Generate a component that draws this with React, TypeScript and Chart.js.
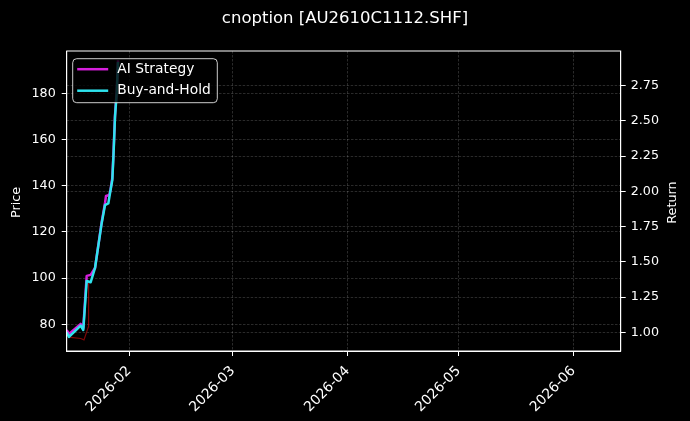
import React, { useEffect, useRef } from "react";
import Chart from "chart.js/auto";

// x values are day numbers counted from 2026-01-01 (= day 0)
const aiDays = [14.09, 14.71, 17.87, 18.57, 19.49, 20.57, 21.74, 23.55, 24.44, 24.71, 25.6, 25.92, 26.41, 26.73, 27.14, 27.6, 27.81, 27.95];
const aiReturn = [1.016, 0.988, 1.059, 1.031, 1.4, 1.407, 1.456, 1.783, 1.918, 1.967, 1.974, 2.01, 2.095, 2.27, 2.54, 2.71, 2.84, 2.93];

const bhDays = [14.09, 14.71, 17.87, 18.57, 19.49, 20.57, 21.74, 23.55, 24.44, 25.33, 25.79, 26.41, 26.73, 27.14, 27.6, 27.81, 27.95];
const bhReturn = [1.0, 0.967, 1.047, 1.016, 1.364, 1.355, 1.456, 1.776, 1.903, 1.914, 1.987, 2.081, 2.258, 2.528, 2.698, 2.826, 2.918];

const priceDays = [14.09, 14.71, 17.87, 18.76, 19.92, 20.0, 20.57, 21.74, 23.55, 24.44, 25.33, 25.79, 26.41, 26.73, 27.14, 27.6, 27.81, 27.95];
const price = [75.6, 74.4, 73.8, 73.2, 78.8, 97.9, 98.2, 104.4, 123.9, 131.7, 132.3, 136.7, 142.5, 153.3, 169.7, 180.1, 187.9, 193.5];

const monthTicks = [31, 59, 90, 120, 151];
const monthLabels = ["2026-02", "2026-03", "2026-04", "2026-05", "2026-06"];
const priceTicks = [80, 100, 120, 140, 160, 180];
const returnTicks = [1.0, 1.25, 1.5, 1.75, 2.0, 2.25, 2.5, 2.75];

const FONT = "DejaVu Sans";
const MAGENTA = "#d61fdc";
const CYAN = "#2ee3ee";
const GRID = "rgba(255,255,255,0.28)";

function pts(xs: number[], ys: number[]) {
  return xs.map((x, i) => ({ x, y: ys[i] }));
}

const decor = {
  id: "decor",
  beforeDraw(chart: any) {
    const { ctx, width, height } = chart;
    ctx.save();
    ctx.fillStyle = "#000";
    ctx.fillRect(0, 0, width, height);
    ctx.restore();
  },
  afterDatasetsDraw(chart: any) {
    const { ctx, chartArea } = chart;
    const x0 = chartArea.left + 6;
    const y0 = chartArea.top + 7.7;
    ctx.save();
    ctx.beginPath();
    ctx.roundRect(x0, y0, 144.6, 44, 4);
    ctx.fillStyle = "rgba(0,0,0,0.8)";
    ctx.fill();
    ctx.strokeStyle = "rgba(255,255,255,0.8)";
    ctx.lineWidth = 1;
    ctx.stroke();
    const items = [
      { label: "AI Strategy", color: MAGENTA, y: y0 + 10.5 },
      { label: "Buy-and-Hold", color: CYAN, y: y0 + 32 },
    ];
    ctx.font = `13.8px "${FONT}"`;
    ctx.textBaseline = "middle";
    ctx.textAlign = "left";
    for (const it of items) {
      ctx.beginPath();
      ctx.moveTo(x0 + 4.5, it.y);
      ctx.lineTo(x0 + 35.5, it.y);
      ctx.strokeStyle = it.color;
      ctx.lineWidth = 2.5;
      ctx.stroke();
      ctx.fillStyle = "#fff";
      ctx.fillText(it.label, x0 + 44.6, it.y);
    }
    ctx.restore();
  },
  afterDraw(chart: any) {
    const { ctx, chartArea } = chart;
    ctx.save();
    ctx.strokeStyle = "#fff";
    ctx.lineWidth = 1;
    ctx.strokeRect(chartArea.left, chartArea.top, chartArea.right - chartArea.left, chartArea.bottom - chartArea.top);
    ctx.fillStyle = "#fff";
    ctx.font = `12.8px "${FONT}"`;
    ctx.textAlign = "center";
    ctx.textBaseline = "middle";
    const midY = (chartArea.top + chartArea.bottom) / 2 + 1.5;
    ctx.translate(17, midY);
    ctx.rotate(-Math.PI / 2);
    ctx.fillText("Price", 0, 0);
    ctx.restore();
    ctx.save();
    ctx.fillStyle = "#fff";
    ctx.font = `12.8px "${FONT}"`;
    ctx.textAlign = "center";
    ctx.textBaseline = "middle";
    ctx.translate(672.5, midY);
    ctx.rotate(-Math.PI / 2);
    ctx.fillText("Return", 0, 0);
    ctx.restore();
  },
};

export default function App() {
  const canvasRef = useRef<HTMLCanvasElement | null>(null);

  useEffect(() => {
    document.body.style.margin = "0";
    if (!canvasRef.current) return;
    const tickFont = { family: FONT, size: 12.7 };
    const chart = new Chart(canvasRef.current, {
      type: "line",
      data: {
        datasets: [
          {
            label: "Buy-and-Hold",
            data: pts(bhDays, bhReturn),
            yAxisID: "y1",
            borderColor: CYAN,
            borderWidth: 2.5,
            pointRadius: 0,
            tension: 0,
            borderJoinStyle: "round",
          },
          {
            label: "AI Strategy",
            data: pts(aiDays, aiReturn),
            yAxisID: "y1",
            borderColor: MAGENTA,
            borderWidth: 2.5,
            pointRadius: 0,
            tension: 0,
            borderJoinStyle: "round",
          },
          {
            label: "Price",
            data: pts(priceDays, price),
            yAxisID: "y",
            borderColor: "rgba(180,10,10,0.7)",
            borderWidth: 1.2,
            pointRadius: 0,
            tension: 0,
          },
        ],
      },
      options: {
        animation: false,
        responsive: true,
        maintainAspectRatio: false,
        layout: { padding: 0 },
        plugins: {
          legend: { display: false },
          tooltip: { enabled: false },
          title: {
            display: true,
            text: "cnoption [AU2610C1112.SHF]",
            color: "#fff",
            font: { family: FONT, size: 16.5, weight: "normal" },
            padding: { top: 8.6, bottom: 22.6 },
          },
        },
        scales: {
          x: {
            type: "linear",
            min: 14.09,
            max: 163.75,
            afterBuildTicks: (s: any) => {
              s.ticks = monthTicks.map((v) => ({ value: v }));
            },
            afterFit: (s: any) => {
              s.height = 70;
            },
            ticks: {
              color: "#fff",
              font: { family: FONT, size: 13.8 },
              autoSkip: false,
              minRotation: 45,
              maxRotation: 45,
              padding: 7,
              callback: (_v: any, i: number) => monthLabels[i],
            },
            grid: { color: GRID, lineWidth: 0.6, tickColor: "#fff", tickLength: 5, tickWidth: 1, tickBorderDash: [] },
            border: { color: "#fff", width: 1, dash: [2.5, 1.5] },
          },
          y: {
            position: "left",
            min: 68.4,
            max: 198.3,
            afterBuildTicks: (s: any) => {
              s.ticks = priceTicks.map((v) => ({ value: v }));
            },
            afterFit: (s: any) => {
              s.width = 66.7;
            },
            ticks: { color: "#fff", font: tickFont, padding: 6, callback: (v: any) => String(v) },
            grid: { color: GRID, lineWidth: 0.6, tickColor: "#fff", tickLength: 5, tickWidth: 1, tickBorderDash: [] },
            border: { color: "#fff", width: 1, dash: [2.5, 1.5] },
          },
          y1: {
            position: "right",
            min: 0.867,
            max: 2.996,
            afterBuildTicks: (s: any) => {
              s.ticks = returnTicks.map((v) => ({ value: v }));
            },
            afterFit: (s: any) => {
              s.width = 69.3;
            },
            ticks: { color: "#fff", font: tickFont, padding: 5, callback: (v: any) => Number(v).toFixed(2) },
            grid: { color: GRID, lineWidth: 0.6, tickColor: "#fff", tickLength: 5, tickWidth: 1, tickBorderDash: [] },
            border: { color: "#fff", width: 1, dash: [2.5, 1.5] },
          },
        },
      },
      plugins: [decor],
    } as any);
    return () => chart.destroy();
  }, []);

  return (
    <div style={{ width: 690, height: 421, background: "#000", position: "relative" }}>
      <canvas ref={canvasRef} />
    </div>
  );
}
